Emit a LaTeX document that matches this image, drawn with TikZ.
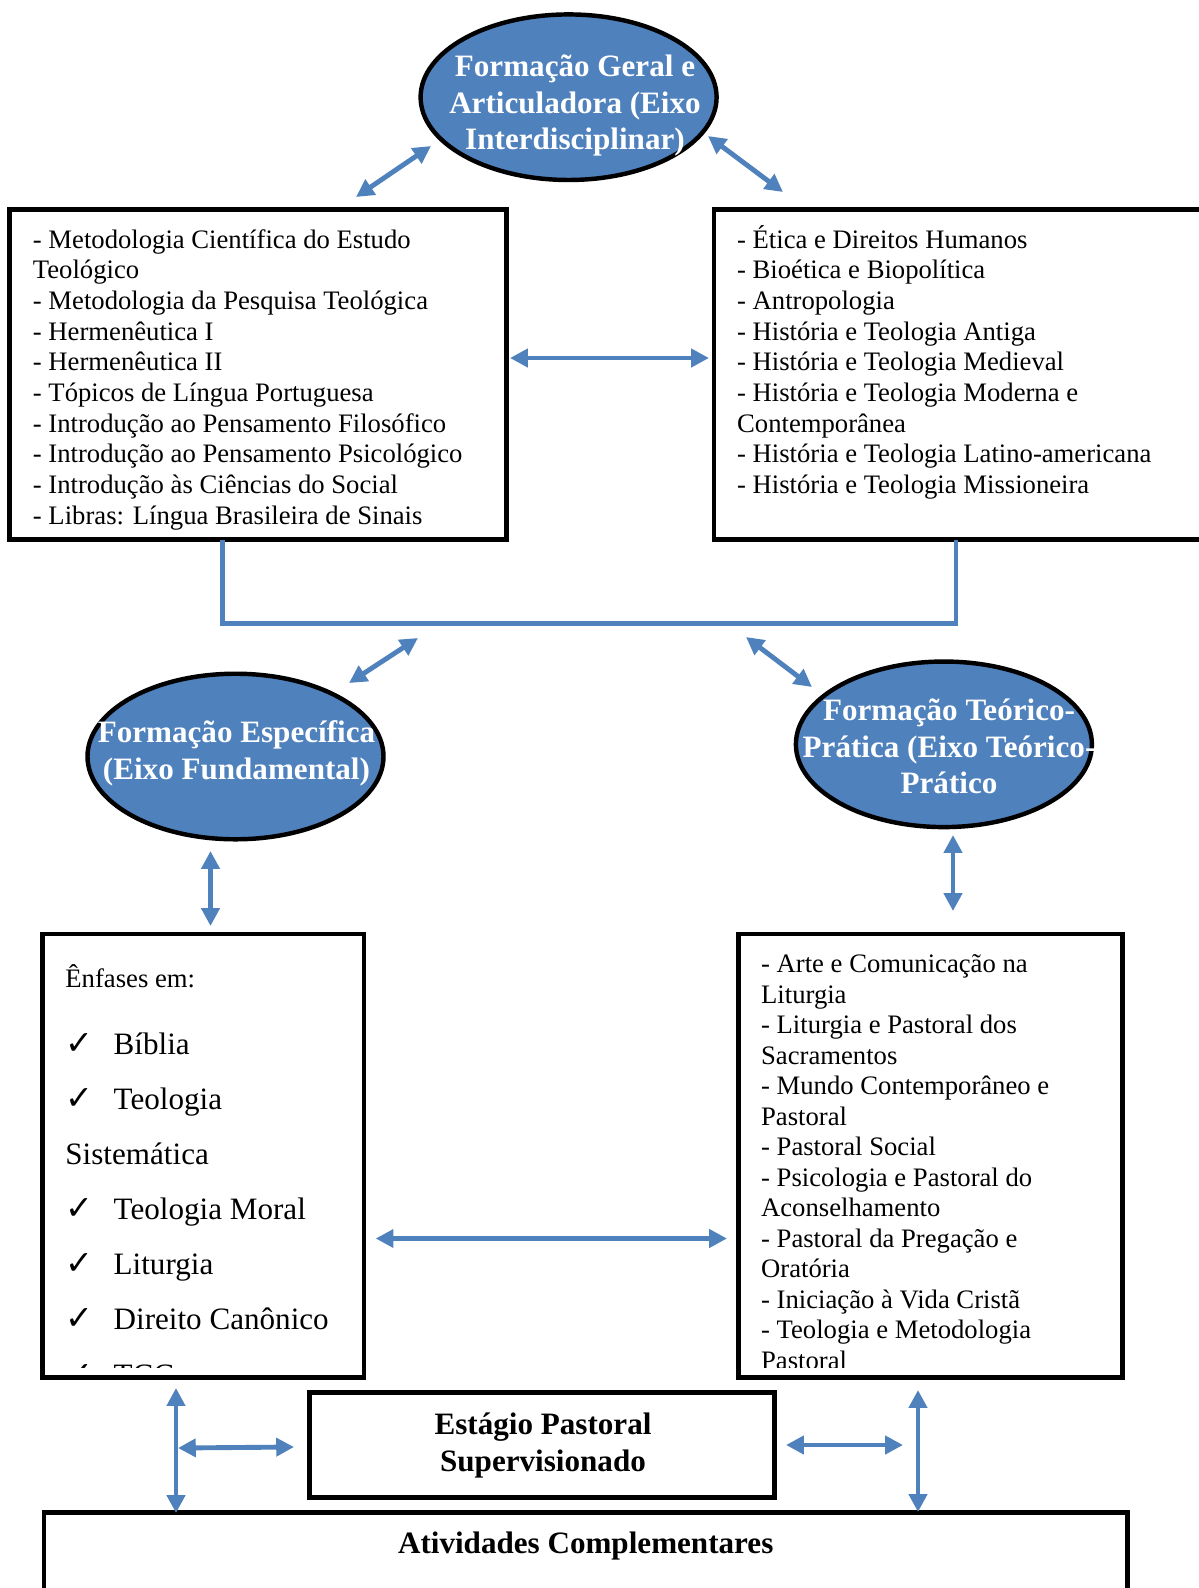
\documentclass[tikz,border=0pt]{standalone}
\usepackage{fontspec}
\setmainfont{Liberation Serif}
\newfontfamily\checkfont{DejaVu Sans}
\usetikzlibrary{arrows.meta,shapes.geometric}
\definecolor{axisblue}{HTML}{4F81BD}
\newcommand\chk{\makebox[21.7pt][l]{\checkfont\fontsize{15}{12}\selectfont ✓}}

\begin{document}
\begin{tikzpicture}[x=0.45pt,y=-0.45pt,
% common options for the boxes:
box/.style = {draw, line width=2.1pt, fill=white, inner sep=0, outer sep=0, anchor=north west},
% common options for the ellipses:
axis/.style = {ellipse, draw, line width=2pt, fill=axisblue, minimum width=133.2pt,
            minimum height=74.5pt, inner sep=0, outer sep=0},
% texts are placed by the baseline of their last line
axistext/.style = {align=center, anchor=base, text=white, inner sep=0,
            font=\fontsize{14}{16.4}\selectfont\bfseries},
boldtext/.style = {align=center, anchor=base, inner sep=0,
            font=\fontsize{14}{16.6}\selectfont\bfseries},
list/.style = {align=left, anchor=base west, inner sep=0, font=\fontsize{12}{13.8}\selectfont},
% common options for the blue connectors:
link/.style = {axisblue, line width=2.2pt},
both/.style = {link, {Triangle[length=8pt,width=8pt]}-{Triangle[length=8pt,width=8pt]}}]
\useasboundingbox (0,0) rectangle (1199,1588);
\clip (0,0) rectangle (1199,1588);

% the three axes
\node[axis] (geral) at (568.6,97.2) {};
\node[axistext] (geralTxt) at (575,149.5) {Formação Geral e\\Articuladora (Eixo\\Interdisciplinar)};
\node[axis] (esp) at (235.5,756.5) {};
\node[axistext] (espTxt) at (236.5,779) {Formação Específica\\(Eixo Fundamental)};
\node[axis] (teo) at (943.9,744.3) {};
\node[axistext] (teoTxt) at (949,793.5) {Formação Teórico-\\Prática (Eixo Teórico-\\Prático};

% upper boxes
\node[box, minimum width=223.65pt, minimum height=148.5pt] (gerL) at (9.5,209.5) {};
\node[list] (gerLTxt) at (32.5,524) {- Metodologia Científica do Estudo\\Teológico\\- Metodologia da Pesquisa Teológica\\- Hermenêutica I\\- Hermenêutica II\\- Tópicos de Língua Portuguesa\\- Introdução ao Pensamento Filosófico\\- Introdução ao Pensamento Psicológico\\- Introdução às Ciências do Social\\- Libras: Língua Brasileira de Sinais};
\node[box, minimum width=234pt, minimum height=148.5pt] (gerR) at (714,209.5) {};
\node[list] (gerRTxt) at (736.7,493.5) {- Ética e Direitos Humanos\\- Bioética e Biopolítica\\- Antropologia\\- História e Teologia Antiga\\- História e Teologia Medieval\\- História e Teologia Moderna e\\Contemporânea\\- História e Teologia Latino-americana\\- História e Teologia Missioneira};

% lower boxes
\node[box, minimum width=144.7pt, minimum height=199.6pt] (enf) at (42.5,934) {};
\begin{scope}
\clip ([xshift=1.05pt,yshift=-1.05pt]enf.north west) rectangle ([xshift=-1.05pt,yshift=4.5pt]enf.south east);
\node[list, font=\fontsize{14}{24.8}\selectfont] (enfTxt) at (65,1385) {{\fontsize{12}{13.8}\selectfont Ênfases em:}\\[5.2pt]\chk Bíblia\\\chk Teologia\\Sistemática\\\chk Teologia Moral\\\chk Liturgia\\\chk Direito Canônico\\\chk TCC};
\end{scope}
\node[box, minimum width=172.9pt, minimum height=199.6pt] (pra) at (738.3,934) {};
\begin{scope}
\clip ([xshift=1.05pt,yshift=-1.05pt]pra.north west) rectangle ([xshift=-1.05pt,yshift=4.5pt]pra.south east);
\node[list, font=\fontsize{12}{13.72}\selectfont] (praTxt) at (760.7,1369) {- Arte e Comunicação na\\Liturgia\\- Liturgia e Pastoral dos\\Sacramentos\\- Mundo Contemporâneo e\\Pastoral\\- Pastoral Social\\- Psicologia e Pastoral do\\Aconselhamento\\- Pastoral da Pregação e\\Oratória\\- Iniciação à Vida Cristã\\- Teologia e Metodologia\\Pastoral};
\end{scope}

\node[box, minimum width=209.25pt, minimum height=47.25pt] (estagio) at (309.5,1392.5) {};
\node[boldtext] (estagioTxt) at (543,1471) {Estágio Pastoral\\Supervisionado};
\node[box, minimum width=487.6pt, minimum height=45pt] (ativ) at (44,1512.5) {};
\node[boldtext] (ativTxt) at (585.7,1553.5) {Atividades Complementares};

% loose ends of the arrows
\coordinate (gerLup) at (356,197);   \coordinate (geralL) at (431,146);
\coordinate (geralR) at (708,136);   \coordinate (gerRup) at (783,192);
\coordinate (midL) at (510,358);     \coordinate (midR) at (709,358);
\coordinate (brL) at (222.5,623.5);  \coordinate (brR) at (956,623.5);
\coordinate (espUp) at (349,683);    \coordinate (brLup) at (418,638);
\coordinate (brRup) at (746,637);    \coordinate (teoUp) at (812,687);
\coordinate (espDn) at (210.5,851);  \coordinate (enfUp) at (210.5,926);
\coordinate (teoDn) at (953,835);    \coordinate (praUp) at (953,911);
\coordinate (lowL) at (375.7,1238.5); \coordinate (lowR) at (727,1238.5);
\coordinate (enfDn) at (176,1388);   \coordinate (ativL) at (176,1513);
\coordinate (stgL) at (178,1448);    \coordinate (stgLin) at (294,1447);
\coordinate (stgRin) at (786,1445);  \coordinate (stgR) at (903,1445);
\coordinate (praDn) at (918,1390);   \coordinate (ativR) at (918,1512);

% connectors
\draw[both] (gerLup) -- (geralL);
\draw[both] (geralR) -- (gerRup);
\draw[both] (midL) -- (midR);
\draw[link] (gerL.south -| brL) -- (brL) -- (brR) -- (gerR.south -| brR);
\draw[both] (espUp) -- (brLup);
\draw[both] (brRup) -- (teoUp);
\draw[both] (espDn) -- (enfUp);
\draw[both] (teoDn) -- (praUp);
\draw[both] (lowL) -- (lowR);
\draw[both] (enfDn) -- (ativL);
\draw[both] (stgL) -- (stgLin);
\draw[both] (stgRin) -- (stgR);
\draw[both] (praDn) -- (ativR);
\end{tikzpicture}
\end{document}
